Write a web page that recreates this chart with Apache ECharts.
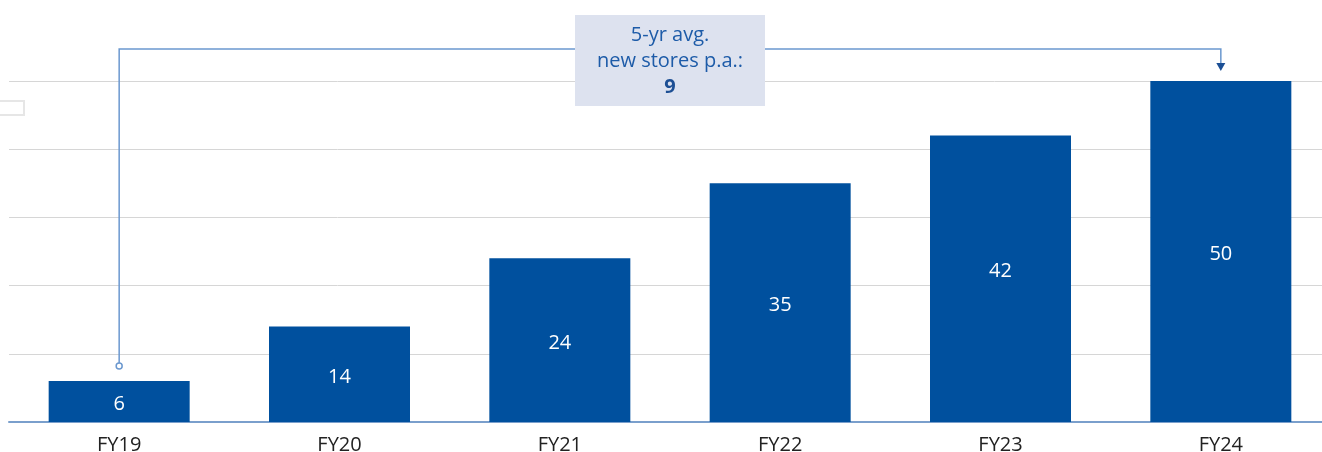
<!DOCTYPE html>
<html>
<head>
<meta charset="utf-8">
<script src="https://cdn.jsdelivr.net/npm/echarts@6/dist/echarts.min.js"></script>
<style>
  html, body { margin: 0; padding: 0; background: #ffffff; }
  #chart { width: 1322px; height: 452px; }
</style>
</head>
<body>
<div id="chart"></div>
<script>
// Store count by fiscal year
const categories = ['FY19', 'FY20', 'FY21', 'FY22', 'FY23', 'FY24'];
const storeCounts = [6, 14, 24, 35, 42, 50];
const avgNewStores = 9;
const avgLines = ['5-yr avg.', 'new stores p.a.:'];

const BAR = '#00509e';
const CONNECTOR = '#6b98cf';
const ARROW = '#1b4f95';
const FONT = '"Open Sans", "Noto Sans", sans-serif';

// FY23's value label sits a little above the bar's centre
const labelShift = { 4: [0, -7] };
const barData = storeCounts.map((v, i) =>
  labelShift[i] ? { value: v, label: { offset: labelShift[i] } } : v);

const chart = echarts.init(document.getElementById('chart'), null, { renderer: 'canvas' });

chart.setOption({
  animation: false,
  grid: { left: 9, top: 81, width: 1322, bottom: 30, containLabel: false, outerBoundsMode: 'none' },
  xAxis: {
    type: 'category',
    data: categories,
    axisLine: { show: true, lineStyle: { color: '#7a9fcc', width: 2 } },
    axisTick: { show: false },
    axisLabel: { color: '#222222', fontSize: 20, margin: 13, fontFamily: FONT }
  },
  yAxis: {
    type: 'value',
    min: 0, max: 50, interval: 10,
    axisLine: { show: false },
    axisTick: { show: false },
    axisLabel: { show: false },
    splitLine: { lineStyle: { color: '#d6d6d6', width: 1 } }
  },
  series: [{
    type: 'bar',
    data: barData,
    barWidth: 141,
    itemStyle: { color: BAR },
    label: {
      show: true,
      position: 'inside',
      offset: [0, 3],
      color: '#ffffff',
      fontSize: 20,
      fontFamily: FONT
    }
  }]
});

// Connector from the first bar to the last, with the average callout on top
function drawCallout() {
  const first = chart.convertToPixel({ seriesIndex: 0 }, [0, storeCounts[0]]);
  const last = chart.convertToPixel({ seriesIndex: 0 }, [storeCounts.length - 1, storeCounts[storeCounts.length - 1]]);
  const x0 = first[0];
  const y0 = first[1] - 15;
  const x1 = last[0];
  const yTop = last[1] - 32;
  const tipY = last[1] - 10;
  const midX = (x0 + x1) / 2;

  chart.setOption({
    graphic: [
      {
        type: 'rect', left: -6, top: 100,
        shape: { width: 29, height: 14 },
        style: { fill: '#ffffff', stroke: '#e6e6e6', lineWidth: 2 }
      },
      {
        type: 'polyline',
        shape: { points: [[x0, y0 - 3], [x0, yTop], [x1, yTop], [x1, tipY - 7]] },
        style: { stroke: CONNECTOR, lineWidth: 1.5, fill: null }
      },
      {
        type: 'circle',
        shape: { cx: x0, cy: y0, r: 3 },
        style: { fill: '#ffffff', stroke: CONNECTOR, lineWidth: 1.5 }
      },
      {
        type: 'polygon',
        shape: { points: [[x1 - 4.5, tipY - 8], [x1 + 4.5, tipY - 8], [x1, tipY]] },
        style: { fill: ARROW }
      },
      {
        type: 'rect',
        shape: { x: midX - 95, y: 15, width: 190, height: 91 },
        style: { fill: '#dde2ef' }
      },
      {
        type: 'text',
        x: midX, y: 35,
        style: {
          text: avgLines[0], fill: '#1d5ba8', fontSize: 20, fontFamily: FONT,
          align: 'center', verticalAlign: 'middle'
        }
      },
      {
        type: 'text',
        x: midX, y: 61,
        style: {
          text: avgLines[1], fill: '#1d5ba8', fontSize: 20, fontFamily: FONT,
          align: 'center', verticalAlign: 'middle'
        }
      },
      {
        type: 'text',
        x: midX, y: 87,
        style: {
          text: String(avgNewStores), fill: '#1d4f94', fontSize: 20, fontWeight: 'bold', fontFamily: FONT,
          align: 'center', verticalAlign: 'middle'
        }
      }
    ]
  });
}
drawCallout();
</script>
</body>
</html>
